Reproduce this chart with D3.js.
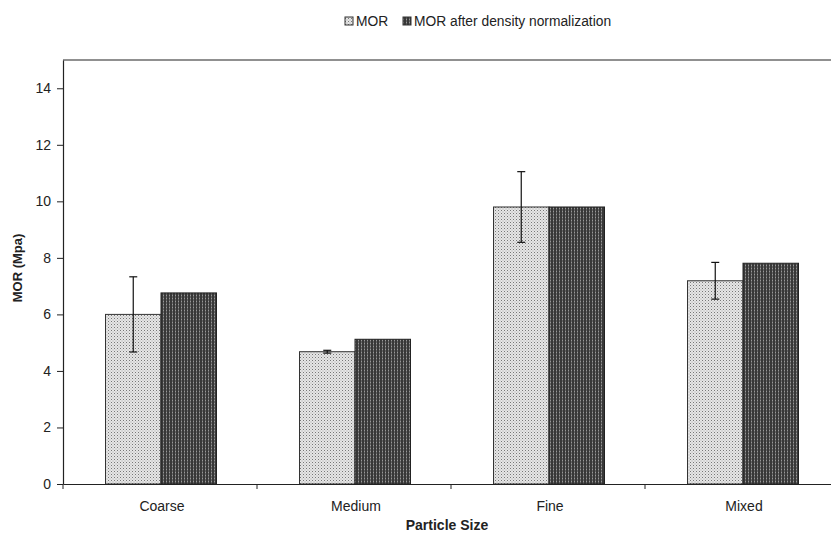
<!DOCTYPE html>
<html><head><meta charset="utf-8">
<script src="https://cdn.jsdelivr.net/npm/d3@7"></script>
<style>body{margin:0;background:#fff}svg{display:block;font-family:"Liberation Sans",Arial,sans-serif}</style>
</head><body><svg id="c" width="831" height="537"></svg>
<script>
const categories = ["Coarse","Medium","Fine","Mixed"];
const series = ["MOR","MOR after density normalization"];
const mor = [6.0, 4.68, 9.8, 7.19];
const morErr = [1.33, 0.05, 1.25, 0.65];
const morNorm = [6.76, 5.12, 9.8, 7.81];
const yTicks = [0,2,4,6,8,10,12,14];

const svg = d3.select("#c");
const defs = svg.append("defs");
const p1 = defs.append("pattern").attr("id","pLight").attr("patternUnits","userSpaceOnUse").attr("width",3).attr("height",3);
p1.append("rect").attr("width",3).attr("height",3).attr("fill","#e6e6e6");
p1.append("rect").attr("x",0).attr("y",0).attr("width",1).attr("height",1).attr("fill","#777");
p1.append("rect").attr("x",1.5).attr("y",1.5).attr("width",1).attr("height",1).attr("fill","#a8a8a8");
const p2 = defs.append("pattern").attr("id","pDark").attr("patternUnits","userSpaceOnUse").attr("width",3).attr("height",3);
p2.append("rect").attr("width",3).attr("height",3).attr("fill","#383838");
p2.append("rect").attr("x",1).attr("y",0).attr("width",1).attr("height",3).attr("fill","#656565");
p2.append("rect").attr("x",1).attr("y",1).attr("width",1).attr("height",1).attr("fill","#999");

const left = 63, bandW = 194, yTop = 60, yBot = 484;
const x = d3.scaleBand().domain(categories).range([left, left + bandW*categories.length]).paddingInner(0).paddingOuter(0);
const y = d3.scaleLinear().domain([0,15]).range([yBot, yTop]);
const barW = 55.5;

// top frame line
svg.append("line").attr("x1",left).attr("x2",831).attr("y1",y(15)).attr("y2",y(15)).attr("stroke","#222").attr("stroke-width",1.2);

// y axis
const yAxis = svg.append("g").attr("transform",`translate(${left},0)`)
  .call(d3.axisLeft(y).tickValues(yTicks).tickSize(6).tickSizeOuter(0).tickFormat(d3.format("d")));
yAxis.select(".domain").attr("stroke","#222").attr("stroke-width",1.2);
yAxis.selectAll(".tick line").attr("stroke","#222");
yAxis.selectAll("text").attr("font-size",14).attr("fill","#222").attr("dx",-3);

// bars
const g = svg.append("g");
categories.forEach((c,i)=>{
  const cx = x(c) + x.bandwidth()/2 + 1;
  g.append("rect").attr("x",cx-barW).attr("y",y(mor[i])).attr("width",barW).attr("height",y(0)-y(mor[i]))
    .attr("fill","url(#pLight)").attr("stroke","#333").attr("stroke-width",1);
  g.append("rect").attr("x",cx).attr("y",y(morNorm[i])).attr("width",barW).attr("height",y(0)-y(morNorm[i]))
    .attr("fill","url(#pDark)").attr("stroke","#222").attr("stroke-width",1);
  const ex = cx - barW/2;
  const hi = y(mor[i]+morErr[i]), lo = y(mor[i]-morErr[i]);
  g.append("line").attr("x1",ex).attr("x2",ex).attr("y1",hi).attr("y2",lo).attr("stroke","#111").attr("stroke-width",1.2);
  g.append("line").attr("x1",ex-4).attr("x2",ex+4).attr("y1",hi).attr("y2",hi).attr("stroke","#111").attr("stroke-width",1.2);
  g.append("line").attr("x1",ex-4).attr("x2",ex+4).attr("y1",lo).attr("y2",lo).attr("stroke","#111").attr("stroke-width",1.2);
});

// x axis
const xAxis = svg.append("g").attr("transform",`translate(0,${yBot})`)
  .call(d3.axisBottom(x).tickSize(0).tickSizeOuter(0));
xAxis.select(".domain").attr("stroke","#222").attr("stroke-width",1.2);
xAxis.selectAll("text").attr("font-size",14).attr("fill","#222").attr("y",17).attr("dx",2);
categories.forEach((c)=>{
  const bx = x(c);
  svg.append("line").attr("x1",bx).attr("x2",bx).attr("y1",yBot).attr("y2",yBot+5).attr("stroke","#222");
});

// axis titles
svg.append("text").attr("transform","translate(22,268) rotate(-90)").attr("text-anchor","middle")
  .attr("font-size",13).attr("font-weight","bold").attr("fill","#222").text("MOR (Mpa)");
svg.append("text").attr("x",447).attr("y",530).attr("text-anchor","middle")
  .attr("font-size",14).attr("font-weight","bold").attr("fill","#222").text("Particle Size");

// legend
const leg = svg.append("g");
const legItems = [{x:345, fill:"url(#pLight)", label:series[0]},{x:403, fill:"url(#pDark)", label:series[1]}];
legItems.forEach(d=>{
  leg.append("rect").attr("x",d.x).attr("y",17).attr("width",8).attr("height",8).attr("fill",d.fill).attr("stroke","#333");
  leg.append("text").attr("x",d.x+11).attr("y",26).attr("font-size",13.8).attr("fill","#222").text(d.label);
});
</script></body></html>
